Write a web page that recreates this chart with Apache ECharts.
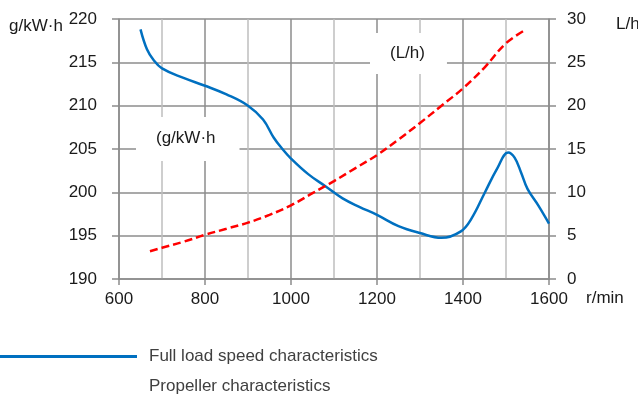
<!DOCTYPE html>
<html>
<head>
<meta charset="utf-8">
<script src="https://cdn.jsdelivr.net/npm/echarts@6.0.0/dist/echarts.min.js"></script>
<style>
  html, body { margin: 0; padding: 0; background: #fff; }
  #chart { width: 638px; height: 395px; }
</style>
</head>
<body>
<div id="chart"></div>
<script>
// full load speed characteristic, specific fuel consumption (g/kW·h)
const fullRpm = [650, 665, 680, 700, 750, 800, 850, 900, 935, 960, 980, 1000, 1040, 1080, 1120, 1160, 1200, 1250, 1300, 1350, 1395, 1420, 1450, 1480, 1505, 1520, 1535, 1550, 1575, 1600];
const fullSfc = [218.8, 216.5, 215.3, 214.3, 213.2, 212.3, 211.3, 210, 208.4, 206.3, 205.0, 203.9, 202.1, 200.7, 199.3, 198.3, 197.4, 196.1, 195.3, 194.75, 195.5, 197.0, 199.9, 202.8, 204.6, 204.0, 202.3, 200.4, 198.5, 196.4];

// propeller characteristic, hourly fuel consumption (L/h)
const propRpm = [672, 700, 750, 800, 850, 900, 950, 1000, 1050, 1100, 1150, 1200, 1250, 1300, 1350, 1400, 1450, 1500, 1547];
const propFuel = [3.2, 3.6, 4.3, 5.1, 5.8, 6.5, 7.4, 8.5, 9.9, 11.3, 12.8, 14.3, 16.1, 18, 20, 22, 24.4, 27.2, 28.8];

const seriesNames = ['Full load speed characteristics', 'Propeller characteristics'];

const font = "'Liberation Sans', Arial, sans-serif";
const gridDark = '#8c8c8c';
const gridLight = '#bfbfbf';
const labelColor = '#1a1a1a';

const chart = echarts.init(document.getElementById('chart'));

const legendBase = {
  orient: 'vertical',
  left: -18,
  itemWidth: 150,
  itemHeight: 3,
  icon: 'rect',
  textStyle: { fontSize: 17, color: '#404040', fontFamily: font, padding: [0, 0, 0, 7] }
};

const option = {
  animation: false,
  textStyle: { fontFamily: font },
  grid: { left: 119, right: 89, top: 19, bottom: 116 },
  legend: [
    Object.assign({}, legendBase, { top: 343, data: [seriesNames[0]] }),
    Object.assign({}, legendBase, { top: 373, data: [{ name: seriesNames[1], itemStyle: { opacity: 0 } }] })
  ],
  xAxis: {
    type: 'value',
    min: 600,
    max: 1600,
    interval: 200,
    axisLine: { show: true, lineStyle: { color: gridDark, width: 1.5 } },
    axisTick: { show: true, length: 6, lineStyle: { color: gridDark, width: 1.5 } },
    axisLabel: { fontSize: 17, color: labelColor, margin: 12, formatter: (v) => String(v) },
    splitLine: { show: true, lineStyle: { color: gridDark, width: 1.5 } },
    minorTick: { show: false, splitNumber: 2 },
    minorSplitLine: { show: true, lineStyle: { color: gridLight, width: 1.5 } }
  },
  yAxis: [
    {
      type: 'value',
      min: 190,
      max: 220,
      interval: 5,
      axisLine: { show: true, lineStyle: { color: gridDark, width: 1.5 } },
      axisTick: { show: true, length: 7, lineStyle: { color: gridDark, width: 1.5 } },
      axisLabel: { fontSize: 17, color: labelColor, margin: 22 },
      splitLine: { show: true, lineStyle: { color: gridDark, width: 1.5 } }
    },
    {
      type: 'value',
      min: 0,
      max: 30,
      interval: 5,
      position: 'right',
      axisLine: { show: true, lineStyle: { color: gridDark, width: 1.5 } },
      axisTick: { show: true, length: 7, lineStyle: { color: gridDark, width: 1.5 } },
      axisLabel: { fontSize: 17, color: labelColor, margin: 18 },
      splitLine: { show: false }
    }
  ],
  graphic: [
    { type: 'text', left: 9, top: 18, style: { text: 'g/kW·h', fontSize: 17, fill: labelColor, fontFamily: font } },
    { type: 'text', left: 616, top: 16, style: { text: 'L/h', fontSize: 17, fill: labelColor, fontFamily: font } },
    { type: 'text', left: 586, top: 290, style: { text: 'r/min', fontSize: 17, fill: labelColor, fontFamily: font } },
    {
      type: 'text', left: 136, top: 117, z: 10,
      style: {
        text: '(g/kW·h', fontSize: 17, fill: labelColor, fontFamily: font,
        backgroundColor: '#fff', padding: [13, 24, 14, 20]
      }
    },
    {
      type: 'text', left: 370, top: 33, z: 10,
      style: {
        text: '(L/h)', fontSize: 17, fill: labelColor, fontFamily: font,
        backgroundColor: '#fff', padding: [12, 22, 12, 20]
      }
    }
  ],
  series: [
    {
      name: seriesNames[0],
      type: 'line',
      yAxisIndex: 0,
      smooth: 0.4,
      showSymbol: false,
      z: 20,
      itemStyle: { color: '#0070C0' },
      lineStyle: { color: '#0070C0', width: 2.5 },
      data: fullRpm.map((r, i) => [r, fullSfc[i]])
    },
    {
      name: seriesNames[1],
      type: 'line',
      yAxisIndex: 1,
      smooth: 0.4,
      showSymbol: false,
      z: 20,
      itemStyle: { color: '#FF0000' },
      lineStyle: { color: '#FF0000', width: 2.5, type: [8, 4] },
      data: propRpm.map((r, i) => [r, propFuel[i]])
    }
  ]
};

chart.setOption(option);
</script>
</body>
</html>
